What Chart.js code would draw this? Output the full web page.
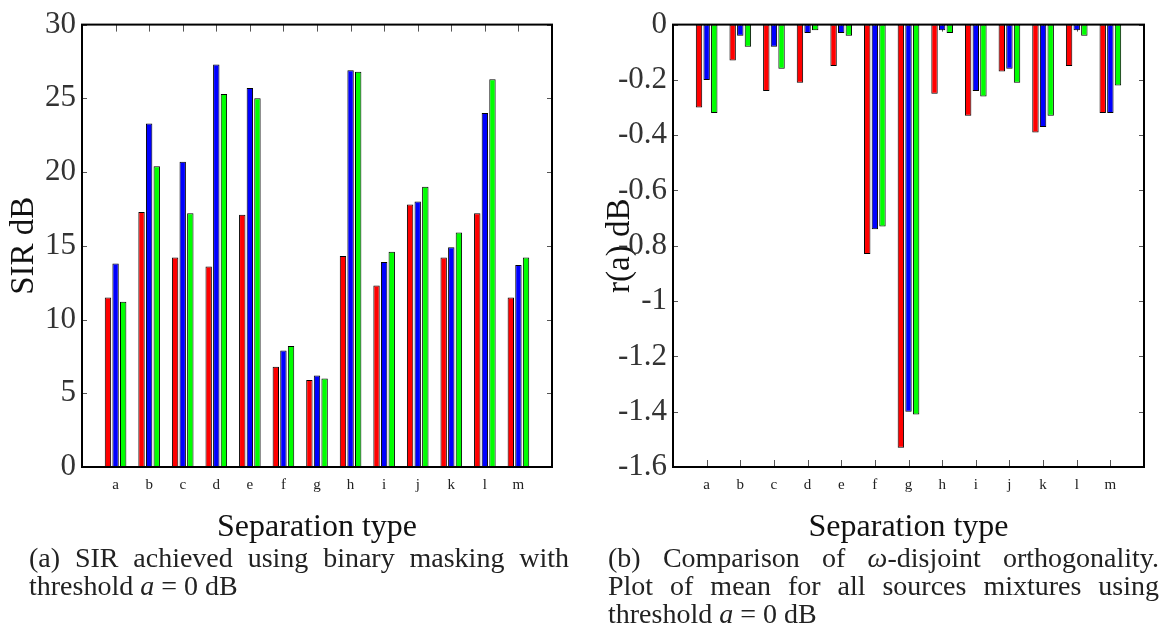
<!DOCTYPE html>
<html>
<head>
<meta charset="utf-8">
<script src="https://cdn.jsdelivr.net/npm/chart.js@4/dist/chart.umd.min.js"></script>
<style>
  body { margin: 0; background: #fff; width: 1173px; height: 635px; position: relative; overflow: hidden; font-family: "Liberation Serif", serif; color: #222; }
  canvas { position: absolute; top: 0; display: block; }
  #sir { left: 0; }
  #rat { left: 590px; }
  .cap { position: absolute; top: 544px; font-size: 28px; line-height: 28px; }
  .cap .full { text-align: justify; text-align-last: justify; }
  #capA { left: 29px; width: 540px; }
  #capB { left: 608px; width: 551px; }
</style>
</head>
<body>
<canvas id="sir" width="585" height="547"></canvas>
<canvas id="rat" width="583" height="547"></canvas>
<div class="cap" id="capA">
  <div class="full">(a) SIR achieved using binary masking with</div>
  <div>threshold <i>a</i> = 0 dB</div>
</div>
<div class="cap" id="capB">
  <div class="full">(b) Comparison of <i>ω</i>-disjoint orthogonality.</div>
  <div class="full">Plot of mean for all sources mixtures using</div>
  <div>threshold <i>a</i> = 0 dB</div>
</div>
<script>
const categories = ["a", "b", "c", "d", "e", "f", "g", "h", "i", "j", "k", "l", "m"];

// (a) SIR in dB
const sirRed = [11.5, 17.3, 14.2, 13.6, 17.1, 6.8, 5.9, 14.3, 12.3, 17.8, 14.2, 17.2, 11.5];
const sirBlue = [13.8, 23.3, 20.7, 27.3, 25.7, 7.9, 6.2, 26.9, 13.9, 18.0, 14.9, 24.0, 13.7];
const sirGreen = [11.2, 20.4, 17.2, 25.3, 25.0, 8.2, 6.0, 26.8, 14.6, 19.0, 15.9, 26.3, 14.2];
const sirTicks = [0, 5, 10, 15, 20, 25, 30];

// (b) r(a) in dB
const rRed = [-0.30, -0.13, -0.24, -0.21, -0.15, -0.83, -1.53, -0.25, -0.33, -0.17, -0.39, -0.15, -0.32];
const rBlue = [-0.20, -0.04, -0.08, -0.03, -0.03, -0.74, -1.40, -0.02, -0.24, -0.16, -0.37, -0.02, -0.32];
const rGreen = [-0.32, -0.08, -0.16, -0.02, -0.04, -0.73, -1.41, -0.03, -0.26, -0.21, -0.33, -0.04, -0.22];
const rTicks = [0, -0.2, -0.4, -0.6, -0.8, -1, -1.2, -1.4, -1.6];

const colors = ["#ff0000", "#0000ff", "#00ff00"];

// empty slot at each end, like the axis running from 0 to 14
const pad = (arr) => [null, ...arr, null];

// box around the plot with inward ticks on all four sides
const frame = {
  id: "frame",
  beforeDatasetsDraw(chart) {
    const { ctx, chartArea: a, scales } = chart;
    ctx.save();
    ctx.strokeStyle = "#555";
    ctx.lineWidth = 1;
    ctx.beginPath();
    scales.x.ticks.forEach((t, i) => {
      const px = Math.round(scales.x.getPixelForTick(i)) + 0.5;
      ctx.moveTo(px, a.top);
      ctx.lineTo(px, a.top + 7);
      ctx.moveTo(px, a.bottom);
      ctx.lineTo(px, a.bottom - 7);
    });
    scales.y.ticks.forEach((t, i) => {
      const py = Math.round(scales.y.getPixelForTick(i)) + 0.5;
      ctx.moveTo(a.left, py);
      ctx.lineTo(a.left + 5, py);
      ctx.moveTo(a.right, py);
      ctx.lineTo(a.right - 5, py);
    });
    ctx.stroke();
    ctx.restore();
  },
  afterDatasetsDraw(chart) {
    const { ctx, chartArea: a } = chart;
    ctx.save();
    ctx.strokeStyle = "#000";
    ctx.lineWidth = 2;
    ctx.strokeRect(a.left, a.top, a.right - a.left, a.bottom - a.top);
    ctx.restore();
  },
};

function makeChart(id, series, yTicks, yTitle, yWidth, titlePad, rightPad) {
  const ctx = document.getElementById(id).getContext("2d");
  return new Chart(ctx, {
    type: "bar",
    data: {
      labels: ["", ...categories, ""],
      datasets: series.map((s, i) => ({
        data: pad(s),
        backgroundColor: colors[i],
        borderColor: "#000",
        borderWidth: 1,
        borderSkipped: false,
        categoryPercentage: 0.68,
        barPercentage: 0.84,
      })),
    },
    options: {
      responsive: false,
      animation: false,
      layout: { padding: { top: 21, right: rightPad, left: 0, bottom: 0 } },
      plugins: { legend: { display: false }, tooltip: { enabled: false } },
      scales: {
        x: {
          type: "category",
          offset: false,
          grid: { display: false, drawTicks: false },
          border: { display: false },
          ticks: { autoSkip: false, maxRotation: 0, padding: 9, color: "#222", font: { family: "Liberation Serif", size: 15 } },
          title: { display: true, text: "Separation type", color: "#111", padding: { top: 0, bottom: 0 }, font: { family: "Liberation Serif", size: 32 } },
          afterFit: (scale) => { scale.height = 80; },
        },
        y: {
          min: Math.min(...yTicks),
          max: Math.max(...yTicks),
          grid: { display: false, drawTicks: false },
          border: { display: false },
          afterBuildTicks: (scale) => { scale.ticks = yTicks.map((v) => ({ value: v })); },
          ticks: { padding: 6, color: "#333", font: { family: "Liberation Serif", size: 31 }, callback: (v) => String(v) },
          title: { display: true, text: yTitle, color: "#111", padding: { top: titlePad, bottom: 0 }, font: { family: "Liberation Serif", size: 33 } },
          afterFit: (scale) => { scale.width = yWidth; },
        },
      },
    },
    plugins: [frame],
  });
}

makeChart("sir", [sirRed, sirBlue, sirGreen], sirTicks, "SIR dB", 82, 5, 33);
makeChart("rat", [rRed, rBlue, rGreen], rTicks, "r(a) dB", 83, 11, 29);
</script>
</body>
</html>
